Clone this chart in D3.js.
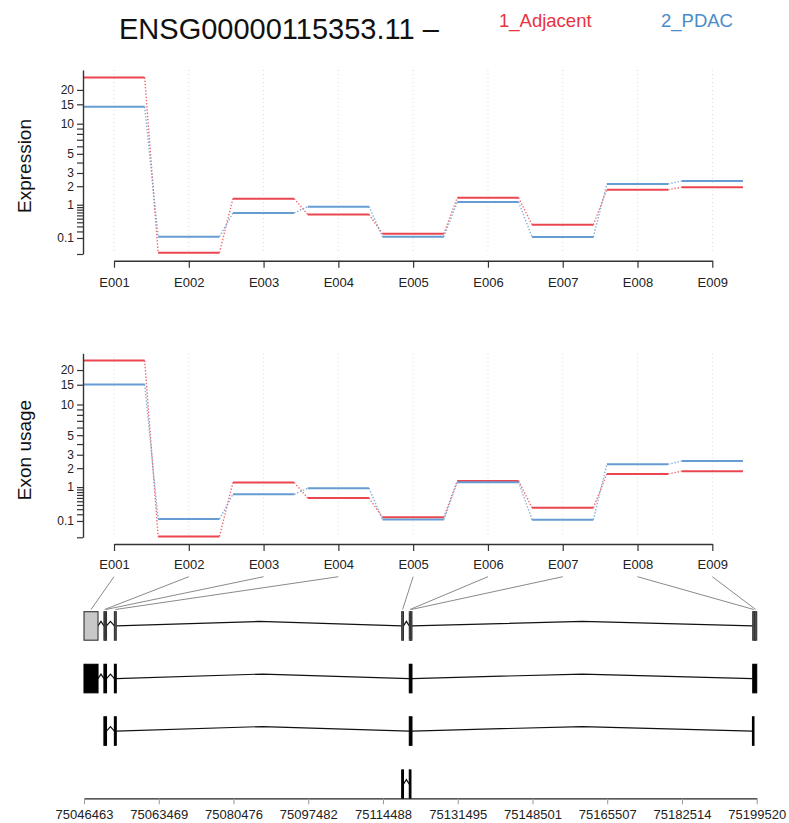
<!DOCTYPE html>
<html><head><meta charset="utf-8">
<script src="https://cdn.jsdelivr.net/npm/d3@7/dist/d3.min.js"></script>
<style>
body{margin:0;background:#fff}
svg{display:block}
text{font-family:"Liberation Sans",Arial,Helvetica,sans-serif}
</style>
</head><body>
<svg id="c" width="789" height="823"></svg>
<script>
// ---------------- data ----------------
const geneId = "ENSG00000115353.11 \u2013";
const conditions = ["1_Adjacent", "2_PDAC"];
const exons = ["E001","E002","E003","E004","E005","E006","E007","E008","E009"];

const expressionAdjacent = [25.5, 0.0007, 1.28, 0.63, 0.16, 1.33, 0.34, 1.78, 1.93];
const expressionPDAC     = [14.3, 0.117, 0.68, 0.92, 0.117, 1.12, 0.113, 2.15, 2.36];
const usageAdjacent      = [24.0, 0.0003, 1.20, 0.60, 0.15, 1.28, 0.33, 1.65, 1.81];
const usagePDAC          = [15.1, 0.126, 0.72, 0.95, 0.12, 1.22, 0.116, 2.27, 2.50];

const yTicksLabeled = [0.1, 1, 2, 3, 5, 10, 15, 20];
const yTicksMinor   = [0, 0.2, 0.3, 0.4, 0.5, 0.6, 0.7, 0.8, 0.9, 4, 6, 7, 8, 9];
const expressionMax = 29.4;
const usageMax      = 27.5;

const geneStart = 75046463, geneEnd = 75199520;
const genomicTicks = [75046463, 75063469, 75080476, 75097482, 75114488, 75131495, 75148501, 75165507, 75182514, 75199520];

// flattened exon bins (genomic start / end)
const exonStart = [75046463, 75051000, 75051300, 75053380, 75118750, 75120480, 75120760, 75198620, 75199050];
const exonEnd   = [75049650, 75051300, 75051580, 75053800, 75119150, 75120760, 75121080, 75199050, 75199520];

// transcripts
const tx1Start = [75046463, 75051000, 75053380, 75120480, 75198620];
const tx1End   = [75049650, 75051580, 75053800, 75121080, 75199520];
const tx2Start = [75051000, 75053380, 75120480, 75198560];
const tx2End   = [75051580, 75053800, 75121080, 75198900];
const tx3Start = [75118750, 75120480];
const tx3End   = [75119150, 75120850];

// ---------------- styles ----------------
const RED = "#EA4650", BLUE = "#659CD3";
const svg = d3.select("#c");

// variance-stabilising y transform
const vst = v => Math.asinh(Math.sqrt(0.2 * Math.max(v, 0)));
function vstScale(max, range) {
  const lin = d3.scaleLinear().domain([0, vst(max)]).range(range);
  const s = v => lin(vst(v));
  s.range = () => lin.range();
  s.domain = () => [0, max];
  s.copy = () => vstScale(max, range);
  return s;
}

const x = d3.scalePoint().domain(exons).range([114, 712.3]);
const half = x.step() * 0.41;

// ---------------- title & legend ----------------
svg.append("text").attr("x", 119).attr("y", 39).attr("font-size", 29)
  .attr("fill", "#111").text(geneId);
svg.append("text").attr("x", 499).attr("y", 27).attr("font-size", 18.5)
  .attr("fill", "#E8333F").text(conditions[0]);
svg.append("text").attr("x", 661).attr("y", 27).attr("font-size", 18.5)
  .attr("fill", "#4A8BC9").text(conditions[1]);

// ---------------- panels ----------------
function panel(cfg) {
  const y = vstScale(cfg.max, [cfg.bottom, cfg.top]);
  const g = svg.append("g");

  // grid
  g.selectAll("line.grid").data(exons).join("line")
    .attr("x1", d => x(d)).attr("x2", d => x(d))
    .attr("y1", cfg.top).attr("y2", cfg.bottom)
    .attr("stroke", "#d9d9d9").attr("stroke-width", 1).attr("stroke-dasharray", "1,3");

  // series
  const series = [{vals: cfg.adj, col: RED}, {vals: cfg.pdac, col: BLUE}];
  series.forEach(s => {
    const pts = exons.map((e, i) => ({e, v: s.vals[i], i}));
    g.selectAll(null).data(pts.slice(0, -1)).join("line")
      .attr("x1", d => x(d.e) + half).attr("y1", d => y(d.v))
      .attr("x2", d => x(exons[d.i + 1]) - half).attr("y2", d => y(s.vals[d.i + 1]))
      .attr("stroke", s.col).attr("stroke-width", 1.4).attr("stroke-dasharray", "1.4,1.8")
      .attr("opacity", 0.8);
    g.selectAll(null).data(pts).join("line")
      .attr("x1", d => x(d.e) - half).attr("x2", d => x(d.e) + half)
      .attr("y1", d => y(d.v)).attr("y2", d => y(d.v))
      .attr("stroke", s.col).attr("stroke-width", 2);
  });

  // y axis
  const ya = g.append("g").attr("transform", "translate(83,0)")
    .call(d3.axisLeft(y).tickValues(yTicksLabeled.concat(yTicksMinor))
      .tickFormat(d => yTicksLabeled.includes(d) ? String(d) : "")
      .tickSize(6).tickPadding(3).tickSizeOuter(0));
  ya.select(".domain").attr("stroke", "#333").attr("stroke-width", 1.4);
  ya.selectAll(".tick line").attr("stroke", "#333").attr("stroke-width", 1.2);
  ya.selectAll("text").attr("font-size", 12).attr("fill", "#222")
    .attr("font-family", '"Liberation Sans",Arial,sans-serif');

  // x axis
  const xa = g.append("g").attr("transform", `translate(0,${cfg.axisY})`)
    .call(d3.axisBottom(x).tickSize(7).tickPadding(cfg.pad).tickSizeOuter(0));
  xa.select(".domain").attr("stroke", "#333").attr("stroke-width", 1.4);
  xa.selectAll(".tick line").attr("stroke", "#333").attr("stroke-width", 1.2);
  xa.selectAll("text").attr("font-size", 13).attr("fill", "#222")
    .attr("font-family", '"Liberation Sans",Arial,sans-serif');

  // y label
  svg.append("text").attr("transform", `translate(31,${cfg.labelY}) rotate(-90)`)
    .attr("text-anchor", "middle").attr("font-size", 19).attr("fill", "#111")
    .text(cfg.label);
}

panel({top: 70, bottom: 254, max: expressionMax, axisY: 260.7, pad: 10,
       adj: expressionAdjacent, pdac: expressionPDAC, label: "Expression", labelY: 166});
panel({top: 353.3, bottom: 537.3, max: usageMax, axisY: 544, pad: 8.5,
       adj: usageAdjacent, pdac: usagePDAC, label: "Exon usage", labelY: 450});

// ---------------- gene model ----------------
const gx = d3.scaleLinear().domain([geneStart, geneEnd]).range([84, 756.7]);
const rowTop = [611.7, 664.3, 716.8, 769.9];
const rowH = 28.5;
const caret = 4.5;

// label connectors
svg.append("g").selectAll("line").data(exons).join("line")
  .attr("x1", d => x(d)).attr("y1", 576.7)
  .attr("x2", (d, i) => gx((exonStart[i] + exonEnd[i]) / 2)).attr("y2", 609.5)
  .attr("stroke", "#8a8a8a").attr("stroke-width", 1);

function drawRow(starts, ends, r, fill) {
  const g = svg.append("g");
  const mid = rowTop[r] + rowH / 2;
  const introns = [];
  for (let i = 0; i < starts.length - 1; i++) {
    if (starts[i + 1] > ends[i]) introns.push([ends[i], starts[i + 1]]);
  }
  g.selectAll("polyline").data(introns).join("polyline")
    .attr("points", d => {
      const a = gx(d[0]), b = gx(d[1]);
      return `${a},${mid} ${(a + b) / 2},${mid - caret} ${b},${mid}`;
    })
    .attr("fill", "none").attr("stroke", "#111").attr("stroke-width", 1.2);
  g.selectAll("rect").data(starts.map((s, i) => [s, ends[i]])).join("rect")
    .attr("x", d => gx(d[0])).attr("width", d => Math.max(gx(d[1]) - gx(d[0]), 0.6))
    .attr("y", rowTop[r]).attr("height", rowH)
    .attr("fill", d => (fill !== "#000" && gx(d[1]) - gx(d[0]) < 4) ? "#555" : fill)
    .attr("stroke", fill === "#000" ? "#000" : "#333").attr("stroke-width", 1.1);
}
drawRow(exonStart, exonEnd, 0, "#c8c8c8");
drawRow(tx1Start, tx1End, 1, "#000");
drawRow(tx2Start, tx2End, 2, "#000");
drawRow(tx3Start, tx3End, 3, "#000");

// genomic axis
const ga = svg.append("g").attr("transform", "translate(0,798.3)")
  .call(d3.axisBottom(gx).tickValues(genomicTicks).tickFormat(d3.format("d"))
    .tickSize(6).tickPadding(5).tickSizeOuter(0));
ga.select(".domain").attr("stroke", "#222").attr("stroke-width", 1.3);
ga.selectAll(".tick line").attr("stroke", "#999");
ga.selectAll("text").attr("font-size", 13).attr("fill", "#222")
  .attr("font-family", '"Liberation Sans",Arial,sans-serif');
</script>
</body></html>
